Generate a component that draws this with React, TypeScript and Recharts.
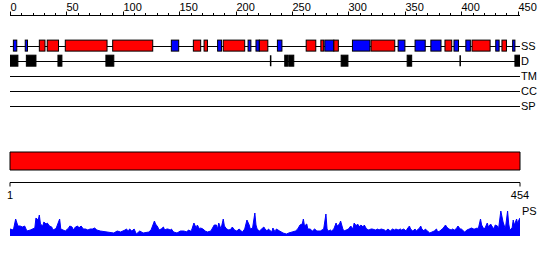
import React from 'react';
import { ComposedChart, BarChart, Bar, AreaChart, Area, XAxis, YAxis } from 'recharts';

const FONT = '"Liberation Sans", Arial, sans-serif';

// top ruler ticks (residue positions)
const rulerTicks = [0, 10, 20, 30, 40, 50, 60, 70, 80, 90, 100, 110, 120, 130, 140, 150, 160, 170, 180, 190, 200, 210, 220, 230, 240, 250, 260, 270, 280, 290, 300, 310, 320, 330, 340, 350, 360, 370, 380, 390, 400, 410, 420, 430, 440, 450];
const rulerStart = 0;
const rulerEnd = 452;

// feature tracks
const trackLabels = ['SS', 'D', 'TM', 'CC', 'SP'];
const trackIds = [2, 3, 4, 5, 6];

// secondary structure segments
const ssStart = [3, 13.5, 26, 33, 49, 91, 143, 162.5, 172, 184, 189, 211, 218, 221, 237, 262.5, 275.5, 279, 287, 303.5, 320, 344, 359, 373, 385.5, 393.5, 404, 409.5, 430.5, 436, 445.5];
const ssEnd = [6, 15.5, 31, 43, 86, 126.5, 149.5, 169, 175, 187.5, 208, 213.5, 221, 228.5, 241, 271, 278, 287, 291, 319, 341, 350, 368, 382, 391.5, 397.5, 408, 425.5, 433.5, 440, 447.5];
const ssClass = ['B', 'B', 'R', 'R', 'R', 'R', 'B', 'R', 'R', 'B', 'R', 'B', 'B', 'R', 'B', 'R', 'R', 'B', 'R', 'B', 'R', 'B', 'B', 'B', 'R', 'B', 'B', 'R', 'B', 'R', 'B'];

// disorder segments
const disStart = [0, 14.5, 42.5, 85, 243.5, 247, 293.5, 352, 447.5];
const disEnd = [7, 23, 46, 92, 246, 251.5, 299.5, 356, 452];
const disSingles = [231, 399];

// domain bar
const domainNames = ['domain'];
const domainStarts = [1];
const domainEnds = [454];
const seqTicks = [1, 454];

// PS profile
const psPos = [0, 3, 5, 7, 9, 11, 13, 15, 18, 22, 23, 25, 26, 27, 29, 30, 32, 33, 35, 37, 38, 40, 41, 44, 45, 49, 52, 53, 55, 56, 58, 60, 61, 63, 65, 67, 69, 71, 73, 75, 77, 80, 86, 92, 95, 98, 102, 103, 105, 106, 108, 110, 112, 115, 118, 123, 125, 128, 129, 131, 132, 134, 136, 137, 139, 140, 142, 143, 145, 148, 151, 154, 157, 158, 160, 161, 163, 165, 166, 168, 169, 171, 173, 175, 178, 179, 181, 183, 184, 185, 187, 189, 190, 192, 194, 196, 197, 199, 201, 203, 204, 206, 208, 210, 212, 213, 215, 217, 218, 219, 221, 222, 225, 226, 228, 229, 230, 232, 233, 235, 236, 239, 242, 245, 247, 250, 253, 255, 257, 259, 260, 261, 263, 264, 266, 268, 270, 272, 275, 278, 280, 281, 282, 284, 285, 287, 289, 290, 292, 293, 295, 296, 298, 300, 302, 304, 305, 307, 308, 310, 311, 313, 314, 316, 318, 320, 321, 324, 326, 327, 329, 332, 333, 335, 337, 339, 341, 342, 344, 346, 347, 349, 351, 352, 354, 355, 357, 359, 360, 363, 364, 365, 367, 368, 370, 372, 374, 376, 378, 379, 381, 383, 384, 386, 387, 389, 391, 392, 394, 396, 397, 399, 400, 402, 403, 405, 407, 409, 411, 412, 414, 415, 417, 418, 420, 421, 423, 424, 426, 427, 429, 430, 432, 433, 435, 437, 439, 441, 442, 443, 445, 446, 447, 449, 450, 451, 452];
const psVal = [7, 6, 17, 10, 10, 9, 10, 5, 6, 8, 18, 16, 21, 12, 10, 14, 12, 13, 10, 9, 6, 7, 8, 17, 7, 5, 8, 10, 9, 6, 9, 10, 8, 10, 7, 7, 6, 7, 7, 8, 6, 5, 4, 3, 5, 4, 6, 7, 5, 7, 5, 7, 2, 5, 3, 4, 6, 15, 12, 9, 6, 7, 9, 6, 7, 7, 6, 7, 4, 3, 5, 5, 4, 6, 5, 6, 13, 8, 11, 7, 8, 7, 5, 4, 5, 7, 11, 11, 7, 13, 7, 17, 10, 7, 6, 7, 9, 6, 5, 7, 6, 4, 7, 16, 11, 7, 8, 23, 11, 7, 5, 6, 9, 7, 5, 7, 6, 4, 8, 4, 7, 5, 3, 2, 3, 4, 5, 7, 11, 12, 17, 10, 12, 7, 7, 5, 7, 5, 5, 7, 22, 7, 5, 6, 5, 7, 13, 10, 12, 15, 7, 5, 6, 7, 10, 7, 13, 10, 12, 9, 11, 9, 11, 7, 6, 7, 7, 6, 7, 6, 7, 6, 5, 7, 5, 7, 6, 7, 6, 7, 6, 7, 5, 7, 10, 7, 5, 7, 5, 8, 10, 7, 5, 7, 5, 3, 4, 5, 7, 4, 5, 7, 8, 11, 9, 7, 6, 7, 6, 8, 10, 7, 7, 5, 4, 6, 7, 8, 7, 7, 8, 7, 17, 11, 7, 8, 13, 9, 12, 10, 7, 11, 10, 7, 25, 14, 7, 25, 12, 6, 8, 16, 11, 17, 12, 16, 18];

const ssColors: Record<string, string> = { B: '#0000ff', R: '#ff0000' };

type Row = { track: number; range: number[]; kind: string; fill: string };
const featureRows: Row[] = [
  ...trackIds.map((t) => ({ track: t, range: [rulerStart, rulerEnd], kind: 'line', fill: '#000' })),
  ...ssStart.map((s, i) => ({ track: 2, range: [s, ssEnd[i]], kind: 'box', fill: ssColors[ssClass[i]] })),
  ...disStart.map((s, i) => ({ track: 3, range: [s, disEnd[i]], kind: 'box', fill: '#000' })),
  ...disSingles.map((p) => ({ track: 3, range: [p - 0.5, p + 0.5], kind: 'tick', fill: '#000' })),
];
const domainRows = domainNames.map((name, i) => ({ name, range: [domainStarts[i], domainEnds[i]] }));
const psRows = psPos.map((pos, i) => ({ pos, value: psVal[i] }));

const FeatureShape = (props: any) => {
  const { x, y, width, height, payload } = props;
  if (x == null || y == null) return null;
  const kind = payload?.kind;
  if (kind === 'line') {
    const cy = Math.round(y + height / 2) + 0.5;
    return <line x1={x} x2={x + width} y1={cy} y2={cy} stroke="#000" strokeWidth={1} />;
  }
  if (kind === 'tick') {
    const cx = x + width / 2;
    return <line x1={cx} x2={cx} y1={y} y2={y + height} stroke="#000" strokeWidth={1.5} />;
  }
  return <rect x={x} y={y} width={width} height={height} fill={payload.fill} stroke="#000" strokeWidth={1} />;
};

const TopTick = (props: any) => {
  const { x, y, payload } = props;
  const major = payload.value % 50 === 0;
  const xx = Math.round(x) + 0.5;
  return (
    <g>
      <line x1={xx} x2={xx} y1={y} y2={y - (major ? 4 : 2.5)} stroke="#000" strokeWidth={1} />
      {major && (
        <text x={xx} y={y - 4.5} fontSize={11} fontFamily={FONT} textAnchor="start" fill="#000">
          {payload.value}
        </text>
      )}
    </g>
  );
};

const tickStyle = { fill: '#000', fontSize: 11, fontFamily: FONT };

export default function App() {
  return (
    <div style={{ position: 'relative', width: 550, height: 260, background: '#fff', fontFamily: FONT }}>
      <style>{`body{margin:0;background:#fff}`}</style>
      <div style={{ position: 'absolute', left: 0, top: 0 }}>
        <ComposedChart width={550} height={121} layout="vertical" data={featureRows} margin={{ top: 0.5, right: 0, left: 10, bottom: 0 }}>
          <XAxis
            type="number"
            orientation="top"
            domain={[rulerStart, rulerEnd]}
            allowDataOverflow
            ticks={rulerTicks}
            interval={0}
            height={15}
            tickSize={0}
            tickMargin={0}
            tickLine={false}
            axisLine={{ stroke: '#000' }}
            tick={<TopTick />}
          />
          <YAxis
            type="number"
            dataKey="track"
            orientation="right"
            domain={[0, 7]}
            allowDataOverflow
            ticks={trackIds}
            interval={0}
            tickFormatter={(v: number) => trackLabels[trackIds.indexOf(v)]}
            width={30}
            axisLine={false}
            tickLine={false}
            tickSize={0}
            tickMargin={1}
            tick={tickStyle}
          />
          <Bar dataKey="range" barSize={11} shape={<FeatureShape />} isAnimationActive={false} />
        </ComposedChart>
      </div>

      <div style={{ position: 'absolute', left: 0, top: 140 }}>
        <BarChart width={550} height={70} layout="vertical" data={domainRows} margin={{ top: 6, right: 30, left: 10, bottom: 0 }} barCategoryGap={0}>
          <XAxis
            type="number"
            domain={[1, 454]}
            ticks={seqTicks}
            interval={0}
            height={27.5}
            tickSize={4}
            tickMargin={5}
            stroke="#000"
            axisLine={{ stroke: '#000' }}
            tickLine={{ stroke: '#000' }}
            tick={tickStyle}
          />
          <YAxis type="category" dataKey="name" hide padding={{ top: 5, bottom: 11.5 }} />
          <Bar dataKey="range" fill="#ff0000" stroke="#000" strokeWidth={1} barSize={20} isAnimationActive={false} />
        </BarChart>
      </div>

      <div style={{ position: 'absolute', left: 0, top: 200 }}>
        <AreaChart width={550} height={36} data={psRows} margin={{ top: 10, right: 0, left: 10, bottom: 0 }}>
          <XAxis type="number" dataKey="pos" domain={[0, 452]} allowDataOverflow hide />
          <YAxis
            type="number"
            orientation="right"
            domain={[0, 26]}
            allowDataOverflow
            ticks={[25]}
            interval={0}
            tickFormatter={() => 'PS'}
            width={30}
            axisLine={false}
            tickLine={false}
            tickSize={0}
            tickMargin={2}
            tick={tickStyle}
          />
          <Area type="linear" dataKey="value" stroke="#0000ff" strokeWidth={1} fill="#0000ff" fillOpacity={1} dot={false} activeDot={false} isAnimationActive={false} />
        </AreaChart>
      </div>
    </div>
  );
}
